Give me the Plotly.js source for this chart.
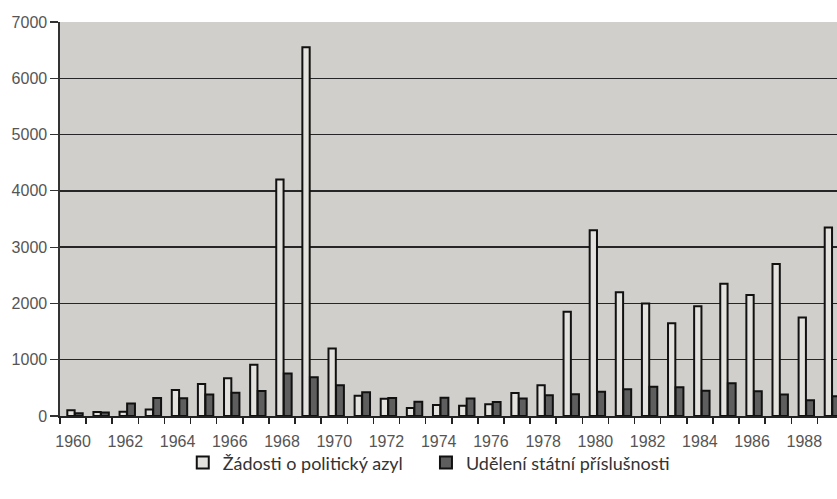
<!DOCTYPE html>
<html>
<head>
<meta charset="utf-8">
<script src="https://cdn.plot.ly/plotly-3.0.1.min.js"></script>
<style>html,body{margin:0;padding:0;background:#fff;}#chart{width:837px;height:499px;}</style>
</head>
<body>
<div id="chart"></div>
<script>
const years = [1960,1961,1962,1963,1964,1965,1966,1967,1968,1969,1970,1971,1972,1973,1974,1975,1976,1977,1978,1979,1980,1981,1982,1983,1984,1985,1986,1987,1988,1989];
const asylumRequests = [100,70,75,115,460,570,670,910,4200,6550,1200,360,305,140,195,180,210,410,545,1850,3300,2200,2000,1650,1950,2350,2150,2700,1750,3350];
const citizenshipGranted = [50,60,220,320,315,380,415,445,755,690,545,420,320,255,325,310,250,310,370,385,430,475,520,510,450,580,440,380,280,350];
const yTicks = [0,1000,2000,3000,4000,5000,6000,7000];
const xTickYears = [1960,1962,1964,1966,1968,1970,1972,1974,1976,1978,1980,1982,1984,1986,1988];
const seriesNames = ["Žádosti o politický azyl", "Udělení státní příslušnosti"];

const traces = [
  {
    type: 'bar', x: years, y: asylumRequests, name: seriesNames[0],
    width: 0.28, offset: -0.22, legend: 'legend',
    marker: {color: '#e4e2de', line: {color: '#111', width: 2}}
  },
  {
    type: 'bar', x: years, y: citizenshipGranted, name: seriesNames[1],
    width: 0.3, offset: 0.07, legend: 'legend2',
    marker: {color: '#5e5e5e', line: {color: '#111', width: 2}}
  }
];

const legendFont = {family: 'Lato, sans-serif', size: 18, color: '#333'};

const layout = {
  width: 837, height: 499,
  margin: {l: 60, r: 0, t: 22, b: 83},
  paper_bgcolor: '#ffffff',
  plot_bgcolor: '#d1cfcc',
  barmode: 'overlay',
  showlegend: true,
  font: {family: 'Liberation Sans, Arial, sans-serif', color: '#555', size: 16},
  xaxis: {
    range: [1959.5, 1989.25],
    tickmode: 'array', tickvals: xTickYears, ticktext: xTickYears.map(String),
    ticks: 'outside', ticklen: 10, tickcolor: 'rgba(0,0,0,0)',
    minor: {tick0: 1959.5, dtick: 1, ticks: 'outside', ticklen: 6, tickcolor: '#222', tickwidth: 1.5, showgrid: false},
    showline: true, linecolor: '#222', linewidth: 1.6,
    showgrid: false, zeroline: false,
    tickfont: {size: 16, color: '#555'}
  },
  yaxis: {
    range: [0, 7000],
    tickmode: 'array', tickvals: yTicks,
    ticks: 'outside', ticklen: 8, tickcolor: '#333', tickwidth: 1.2,
    showline: true, linecolor: '#333', linewidth: 1.6,
    showgrid: true, gridcolor: '#262626', gridwidth: 1.4,
    zeroline: false,
    tickfont: {size: 16, color: '#555'}
  },
  legend: {
    orientation: 'h', x: 0.158, xanchor: 'left', y: -0.072, yanchor: 'top',
    font: legendFont, bgcolor: 'rgba(0,0,0,0)'
  },
  legend2: {
    orientation: 'h', x: 0.471, xanchor: 'left', y: -0.072, yanchor: 'top',
    font: legendFont, bgcolor: 'rgba(0,0,0,0)'
  }
};

Plotly.newPlot('chart', traces, layout, {displayModeBar: false, staticPlot: true});
</script>
</body>
</html>
